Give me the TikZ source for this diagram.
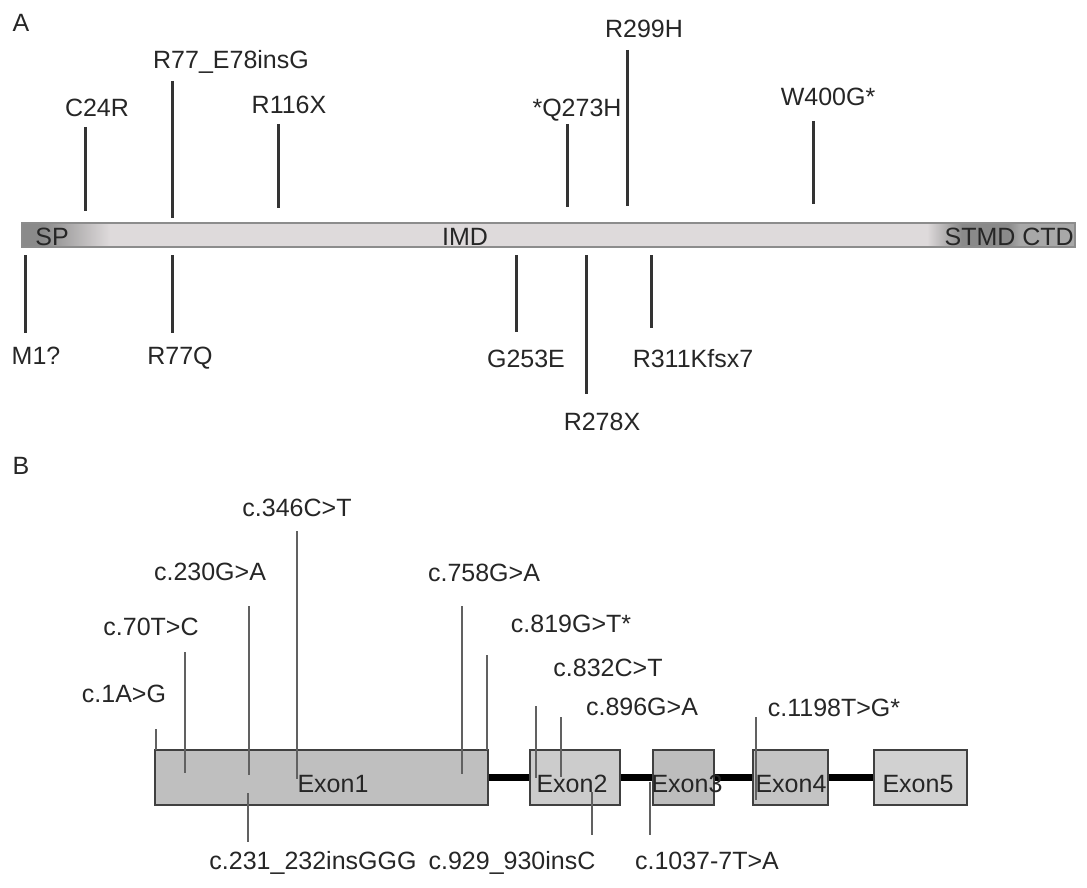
\documentclass[tikz,border=0pt]{standalone}
\usepackage{fontspec}
\setmainfont{Liberation Sans}
\usetikzlibrary{positioning}

\definecolor{barlight}{HTML}{DEDADB}
\definecolor{bardark}{HTML}{8A8A8A}
\definecolor{barmid}{HTML}{A8A8A8}

\tikzset{
  mutlabel/.style={font=\fontsize{25}{30}\selectfont, text=black!85, inner sep=0pt,
    text height=18pt, text depth=0pt},
  domlabel/.style={mutlabel},
  ticka/.style={draw=black!80, line width=3pt},
  tickb/.style={draw=black!62, line width=1.8pt},
  exonbox/.style={draw=black!75, fill=black!25, line width=1.6pt, inner sep=0pt,
    minimum height=55pt},
  intron/.style={draw=black, line width=7pt}
}

\begin{document}
\begin{tikzpicture}[x=1pt, y=-1pt]
  \useasboundingbox (0,0) rectangle (1087,888);

  % panel letters
  \node[mutlabel] (pa) at (21,23) {A};
  \node[mutlabel] (pb) at (21,465) {B};

  % protein bar with domains
  \fill[bardark] (22,223) rectangle (42,247);
  \fill[left color=bardark, right color=barlight] (42,223) rectangle (110,247);
  \fill[barlight] (110,223) rectangle (927,247);
  \fill[left color=barlight, right color=bardark] (927,223) rectangle (962,247);
  \fill[bardark] (962,223) rectangle (1008,247);
  \fill[left color=bardark, right color=barmid] (1008,223) rectangle (1020,247);
  \fill[barmid] (1020,223) rectangle (1075,247);
  \draw[black!45, line width=1.5pt] (22,223) rectangle (1075,247);
  \node[domlabel] (sp) at (52,236) {SP};
  \node[domlabel] (imd) at (465,236) {IMD};
  \node[domlabel, anchor=east] (ctd) at (1074,236) {STMD CTD};

  % mutations above the bar
  \draw[ticka] (85,127) -- (85,211);
  \node[mutlabel] (c24r) at (97,108) {C24R};
  \draw[ticka] (172,81) -- (172,218);
  \node[mutlabel] (r77ins) at (231,60) {R77\_E78insG};
  \draw[ticka] (278,124) -- (278,208);
  \node[mutlabel] (r116x) at (289,105) {R116X};
  \draw[ticka] (567,124) -- (567,207);
  \node[mutlabel] (q273h) at (577,108) {*Q273H};
  \draw[ticka] (627,50) -- (627,206);
  \node[mutlabel] (r299h) at (644,29) {R299H};
  \draw[ticka] (813,121) -- (813,204);
  \node[mutlabel] (w400g) at (828,97) {W400G*};

  % mutations below the bar
  \draw[ticka] (25,255) -- (25,333);
  \node[mutlabel] (m1) at (36,355) {M1?};
  \draw[ticka] (172,255) -- (172,333);
  \node[mutlabel] (r77q) at (180,355) {R77Q};
  \draw[ticka] (516,255) -- (516,332);
  \node[mutlabel] (g253e) at (526,358) {G253E};
  \draw[ticka] (586,255) -- (586,394);
  \node[mutlabel] (r278x) at (602,421) {R278X};
  \draw[ticka] (651,255) -- (651,328);
  \node[mutlabel] (r311k) at (693,358) {R311Kfsx7};

  % exons and introns
  \node[exonbox, minimum width=333pt] (ex1) at (321.5,777.5) {};
  \node[exonbox, minimum width=90pt, fill=black!20] (ex2) at (575,777.5) {};
  \node[exonbox, minimum width=61pt, fill=black!26] (ex3) at (683.5,777.5) {};
  \node[exonbox, minimum width=75pt, fill=black!23] (ex4) at (790.5,777.5) {};
  \node[exonbox, minimum width=93pt, fill=black!18] (ex5) at (920.5,777.5) {};
  \draw[intron] (ex1.east) -- (ex2.west);
  \draw[intron] (ex2.east) -- (ex3.west);
  \draw[intron] (ex3.east) -- (ex4.west);
  \draw[intron] (ex4.east) -- (ex5.west);
  \node[domlabel] (t1) at (333,783) {Exon1};
  \node[domlabel] (t2) at (572,783) {Exon2};
  \node[domlabel] (t3) at (687,783) {Exon3};
  \node[domlabel] (t4) at (791,783) {Exon4};
  \node[domlabel] (t5) at (918,783) {Exon5};

  % cDNA variants above
  \draw[tickb] (156,729) -- (156,750);
  \node[mutlabel] (v1) at (124,693) {c.1A>G};
  \draw[tickb] (185,652) -- (185,773);
  \node[mutlabel] (v70) at (151,626) {c.70T>C};
  \draw[tickb] (249,606) -- (249,775);
  \node[mutlabel] (v230) at (210,571) {c.230G>A};
  \draw[tickb] (297,531) -- (297,779);
  \node[mutlabel] (v346) at (297,507) {c.346C>T};
  \draw[tickb] (462,606) -- (462,774);
  \node[mutlabel] (v758) at (484,572) {c.758G>A};
  \draw[tickb] (487,655) -- (487,750);
  \node[mutlabel] (v819) at (571,623) {c.819G>T*};
  \draw[tickb] (536,706) -- (536,778);
  \node[mutlabel] (v832) at (608,667) {c.832C>T};
  \draw[tickb] (561,717) -- (561,777);
  \node[mutlabel] (v896) at (642,706) {c.896G>A};
  \draw[tickb] (756,717) -- (756,800);
  \node[mutlabel] (v1198) at (834,707) {c.1198T>G*};

  % cDNA variants below
  \draw[tickb] (248,793) -- (248,842);
  \node[mutlabel] (v231) at (313,860) {c.231\_232insGGG};
  \draw[tickb] (592,792) -- (592,835);
  \node[mutlabel] (v929) at (512,860) {c.929\_930insC};
  \draw[tickb] (650,782) -- (650,835);
  \node[mutlabel] (v1037) at (707,860) {c.1037-7T>A};
\end{tikzpicture}
\end{document}
